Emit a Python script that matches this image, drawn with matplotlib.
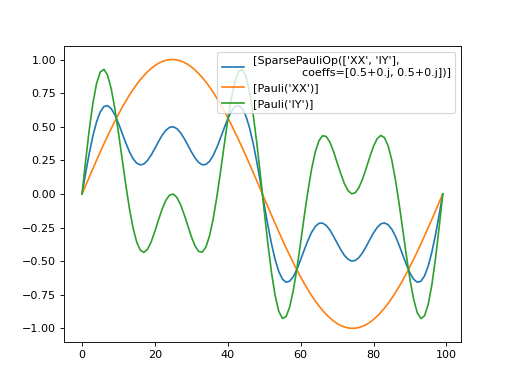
import matplotlib
matplotlib.use("Agg")
import matplotlib.pyplot as plt

# time steps
steps = list(range(100))

# <XX> expectation
xx_vals = [
    0.000, 0.063, 0.127, 0.189, 0.251, 0.312, 0.372, 0.430, 0.486, 0.541,
    0.593, 0.643, 0.690, 0.735, 0.776, 0.815, 0.850, 0.881, 0.910, 0.934,
    0.955, 0.972, 0.985, 0.994, 0.999, 1.000, 0.997, 0.990, 0.979, 0.964,
    0.945, 0.922, 0.896, 0.866, 0.833, 0.796, 0.756, 0.713, 0.667, 0.618,
    0.567, 0.514, 0.458, 0.401, 0.342, 0.282, 0.220, 0.158, 0.095, 0.032,
    -0.032, -0.095, -0.158, -0.220, -0.282, -0.342, -0.401, -0.458, -0.514, -0.567,
    -0.618, -0.667, -0.713, -0.756, -0.796, -0.833, -0.866, -0.896, -0.922, -0.945,
    -0.964, -0.979, -0.990, -0.997, -1.000, -0.999, -0.994, -0.985, -0.972, -0.955,
    -0.934, -0.910, -0.881, -0.850, -0.815, -0.776, -0.735, -0.690, -0.643, -0.593,
    -0.541, -0.486, -0.430, -0.372, -0.312, -0.251, -0.189, -0.127, -0.063, 0.000,
]

# <IY> expectation
iy_vals = [
    0.000, 0.250, 0.482, 0.678, 0.823, 0.907, 0.927, 0.884, 0.783, 0.636,
    0.456, 0.262, 0.069, -0.107, -0.253, -0.358, -0.419, -0.435, -0.411, -0.355,
    -0.277, -0.192, -0.112, -0.048, -0.009, -0.001, -0.025, -0.077, -0.151, -0.234,
    -0.318, -0.386, -0.428, -0.433, -0.395, -0.311, -0.185, -0.022, 0.164, 0.360,
    0.550, 0.715, 0.840, 0.913, 0.926, 0.874, 0.757, 0.585, 0.370, 0.127,
    -0.127, -0.370, -0.585, -0.757, -0.874, -0.926, -0.913, -0.840, -0.715, -0.550,
    -0.360, -0.164, 0.022, 0.185, 0.311, 0.395, 0.433, 0.428, 0.386, 0.318,
    0.234, 0.151, 0.077, 0.025, 0.001, 0.009, 0.048, 0.112, 0.192, 0.277,
    0.355, 0.411, 0.435, 0.419, 0.358, 0.253, 0.107, -0.069, -0.262, -0.456,
    -0.636, -0.783, -0.884, -0.927, -0.907, -0.823, -0.678, -0.482, -0.250, 0.000,
]

# 0.5*XX + 0.5*IY
sum_vals = [
    0.000, 0.157, 0.305, 0.434, 0.537, 0.610, 0.650, 0.657, 0.635, 0.589,
    0.525, 0.453, 0.380, 0.314, 0.262, 0.229, 0.216, 0.223, 0.250, 0.290,
    0.339, 0.390, 0.437, 0.473, 0.495, 0.500, 0.486, 0.457, 0.414, 0.365,
    0.314, 0.268, 0.234, 0.217, 0.219, 0.243, 0.286, 0.346, 0.416, 0.489,
    0.559, 0.615, 0.649, 0.657, 0.634, 0.578, 0.489, 0.372, 0.233, 0.080,
    -0.080, -0.233, -0.372, -0.489, -0.578, -0.634, -0.657, -0.649, -0.615, -0.559,
    -0.489, -0.416, -0.346, -0.286, -0.243, -0.219, -0.217, -0.234, -0.268, -0.314,
    -0.365, -0.414, -0.457, -0.486, -0.500, -0.495, -0.473, -0.437, -0.390, -0.339,
    -0.290, -0.250, -0.223, -0.216, -0.229, -0.262, -0.314, -0.380, -0.453, -0.525,
    -0.589, -0.635, -0.657, -0.650, -0.610, -0.537, -0.434, -0.305, -0.157, 0.000,
]

labels = [
    "[SparsePauliOp(['XX', 'IY'],\n              coeffs=[0.5+0.j, 0.5+0.j])]",
    "[Pauli('XX')]",
    "[Pauli('IY')]",
]

fig, ax = plt.subplots(figsize=(6.4, 4.8), dpi=80)
ax.plot(steps, sum_vals, label=labels[0])
ax.plot(steps, xx_vals, label=labels[1])
ax.plot(steps, iy_vals, label=labels[2])
ax.legend(loc="upper right")
fig.savefig("out.png")
